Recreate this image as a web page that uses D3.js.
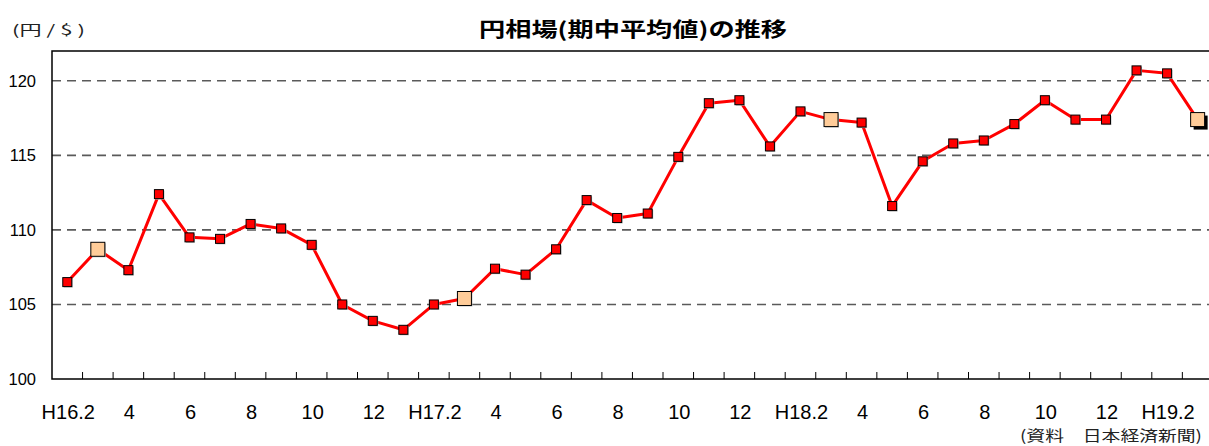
<!DOCTYPE html>
<html>
<head>
<meta charset="utf-8">
<script src="https://cdn.jsdelivr.net/npm/d3@7"></script>
<style>
  body { margin: 0; background: #fff; }
  text { font-family: 'Liberation Sans', Arial, sans-serif; }
  .jp { font-family: 'Noto Sans CJK JP', sans-serif; }
</style>
</head>
<body>
<svg id="chart" width="1209" height="446"></svg>
<script>
// months Feb 2004 (H16.2) .. Mar 2007 (H19.3)
var months = ['H16.2', '3', '4', '5', '6', '7', '8', '9', '10', '11', '12', 'H17.1',
  'H17.2', '3', '4', '5', '6', '7', '8', '9', '10', '11', '12', 'H18.1',
  'H18.2', '3', '4', '5', '6', '7', '8', '9', '10', '11', '12', 'H19.1',
  'H19.2', '3'];
// yen per dollar, monthly average
var rates = [106.5, 108.7, 107.3, 112.4, 109.5, 109.4, 110.4, 110.1, 109.0, 105.0, 103.9, 103.3,
  105.0, 105.4, 107.4, 107.0, 108.7, 112.0, 110.8, 111.1, 114.9, 118.5, 118.7, 115.6,
  117.95, 117.4, 117.2, 111.6, 114.6, 115.8, 116.0, 117.1, 118.7, 117.4, 117.4, 120.7,
  120.5, 117.4];
// fiscal year ends get the big marker
var bigMarks = [1, 13, 25, 37];
var yTicks = [100, 105, 110, 115, 120];

var plotLeft = 52, plotTop = 51, plotBottom = 379;
var band = 30.55;

var svg = d3.select('#chart');

var x = d3.scaleBand()
  .domain(d3.range(months.length))
  .range([plotLeft, plotLeft + band * months.length]);
var y = d3.scaleLinear().domain([100, 122]).range([plotBottom, plotTop]);
var cx = i => x(i) + x.bandwidth() / 2;

// gridlines
svg.selectAll('.grid')
  .data(yTicks.filter(d => d > 100)).enter().append('line')
  .attr('x1', plotLeft).attr('x2', 1209)
  .attr('y1', d => y(d)).attr('y2', d => y(d))
  .attr('stroke', '#5a5a5a')
  .attr('stroke-width', 1.6)
  .attr('stroke-dasharray', '9,6');

// frame: top, left, bottom
svg.append('path')
  .attr('d', 'M1209,' + plotTop + 'H' + plotLeft + 'V' + plotBottom + 'H1209')
  .attr('fill', 'none')
  .attr('stroke', '#000')
  .attr('stroke-width', 1.5);

// inward ticks between months
svg.selectAll('.tick')
  .data(d3.range(1, months.length + 1)).enter().append('line')
  .attr('x1', d => plotLeft + d * x.step()).attr('x2', d => plotLeft + d * x.step())
  .attr('y1', plotBottom).attr('y2', plotBottom - 7)
  .attr('stroke', '#000')
  .attr('stroke-width', 1);

// y labels
svg.selectAll('.ylab')
  .data(yTicks).enter().append('text')
  .attr('x', 36)
  .attr('y', d => y(d) + 6)
  .attr('text-anchor', 'end')
  .attr('font-size', 16.5)
  .text(d => d);

// x labels, every other month
svg.selectAll('.xlab')
  .data(d3.range(0, months.length, 2)).enter().append('text')
  .attr('x', d => cx(d) + 1)
  .attr('y', 419)
  .attr('text-anchor', 'middle')
  .attr('font-size', 20)
  .text(d => months[d]);

// the line
var line = d3.line()
  .x((d, i) => cx(i))
  .y(d => y(d));

svg.append('path')
  .datum(rates)
  .attr('d', line)
  .attr('fill', 'none')
  .attr('stroke', '#ff0000')
  .attr('stroke-width', 3)
  .attr('stroke-linejoin', 'round');

// markers
var last = rates.length - 1;
var pts = rates.map((d, i) => ({ i: i, v: d, big: bigMarks.indexOf(i) >= 0 }));
var size = d => d.big ? 14 : 9;

svg.selectAll('.shadow')
  .data(pts).enter().append('rect')
  .attr('x', d => cx(d.i) - size(d) / 2 + (d.i === last ? 3 : 1))
  .attr('y', d => y(d.v) - size(d) / 2 + (d.i === last ? 3 : 1))
  .attr('width', size).attr('height', size)
  .attr('fill', d => d.i === last ? '#000' : '#bbb');

svg.selectAll('.mark')
  .data(pts).enter().append('rect')
  .attr('x', d => cx(d.i) - size(d) / 2)
  .attr('y', d => y(d.v) - size(d) / 2)
  .attr('width', size).attr('height', size)
  .attr('fill', d => d.big ? '#ffcc99' : '#ff0000')
  .attr('stroke', '#000')
  .attr('stroke-width', 1);

// titles
svg.append('text')
  .classed('jp', true)
  .attr('x', 479).attr('y', 37)
  .attr('font-size', 20)
  .attr('font-weight', 'bold')
  .attr('textLength', 308)
  .attr('lengthAdjust', 'spacingAndGlyphs')
  .text('円相場(期中平均値)の推移');

svg.append('text')
  .classed('jp', true)
  .attr('x', 12).attr('y', 35)
  .attr('font-size', 14)
  .attr('fill', '#222')
  .attr('textLength', 73)
  .attr('lengthAdjust', 'spacingAndGlyphs')
  .text('(円 / $ )');

svg.append('text')
  .classed('jp', true)
  .attr('x', 1020).attr('y', 441)
  .attr('font-size', 15)
  .attr('fill', '#222')
  .attr('textLength', 182)
  .attr('lengthAdjust', 'spacingAndGlyphs')
  .text('(資料　日本経済新聞)');
</script>
</body>
</html>
